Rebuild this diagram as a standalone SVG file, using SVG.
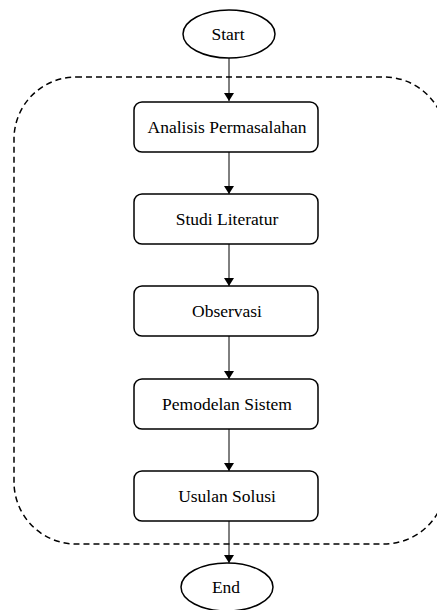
<svg xmlns="http://www.w3.org/2000/svg" width="437" height="610" viewBox="0 0 437 610">
<defs>
<marker id="arr" markerWidth="10" markerHeight="10" refX="8" refY="5" orient="auto" markerUnits="userSpaceOnUse">
<path d="M0,0 L8,5 L0,10 z" fill="#000"/>
</marker>
<style>
.box{fill:#fff;stroke:#000;stroke-width:1.5}
.t{font-family:"Liberation Serif","Times New Roman",serif;font-size:17.5px;fill:#000;text-anchor:middle}
.c{stroke:#000;stroke-width:1;fill:none;marker-end:url(#arr)}
.dash{fill:none;stroke:#000;stroke-width:1.5;stroke-dasharray:6 4}
</style>
</defs>
<rect width="437" height="610" fill="#fff"/>
<rect class="dash" x="14" y="77" width="432" height="467" rx="62" ry="62"/>
<g id="connectors">
<line class="c" x1="229" y1="58" x2="229" y2="101"/>
<line class="c" x1="229" y1="152" x2="229" y2="194"/>
<line class="c" x1="229" y1="244" x2="229" y2="286"/>
<line class="c" x1="229" y1="336" x2="229" y2="379"/>
<line class="c" x1="229" y1="429" x2="229" y2="471"/>
<line class="c" x1="229" y1="521" x2="229" y2="563"/>
</g>
<g id="start"><ellipse class="box" cx="229" cy="34" rx="46" ry="24"/><text class="t" x="228" y="40">Start</text></g>
<g id="analisis"><rect class="box" x="134" y="102" width="184" height="50" rx="8"/><text class="t" x="227" y="133">Analisis Permasalahan</text></g>
<g id="studi"><rect class="box" x="134" y="194" width="184" height="50" rx="8"/><text class="t" x="227" y="225">Studi Literatur</text></g>
<g id="observasi"><rect class="box" x="134" y="286" width="184" height="50" rx="8"/><text class="t" x="227" y="317">Observasi</text></g>
<g id="pemodelan"><rect class="box" x="134" y="379" width="184" height="50" rx="8"/><text class="t" x="227" y="410">Pemodelan Sistem</text></g>
<g id="usulan"><rect class="box" x="134" y="471" width="184" height="50" rx="8"/><text class="t" x="227" y="502">Usulan Solusi</text></g>
<g id="end"><ellipse class="box" cx="227" cy="587" rx="46" ry="24"/><text class="t" x="226" y="593">End</text></g>
</svg>
